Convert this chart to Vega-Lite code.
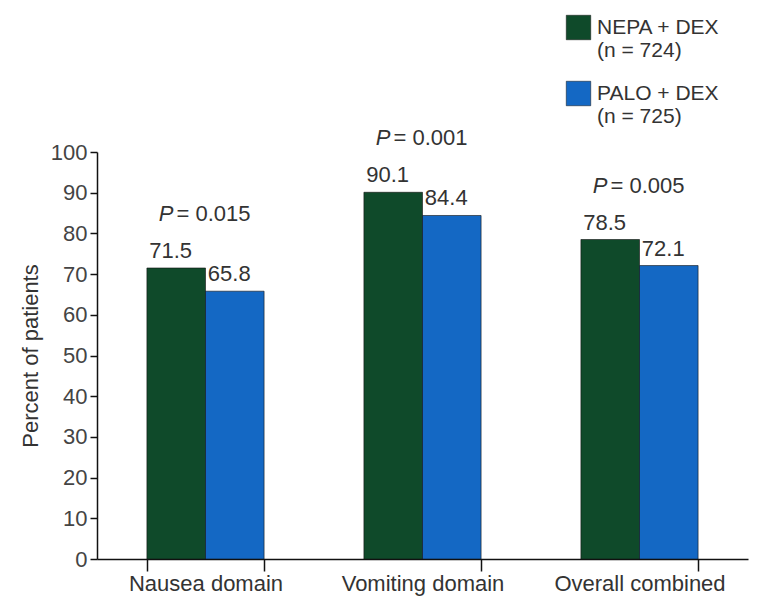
{
  "$schema": "https://vega.github.io/schema/vega-lite/v6.json",
  "width": 651,
  "height": 407,
  "autosize": {"type": "none"},
  "padding": {"left": 97, "top": 152, "right": 24, "bottom": 46},
  "background": "white",
  "config": {
    "font": "Liberation Sans",
    "view": {"stroke": null},
    "axis": {"grid": false},
    "scale": {"offsetBandPaddingInner": 0, "offsetBandPaddingOuter": 0}
  },
  "datasets": {
    "bars": [
      {"domain": "Nausea domain", "treatment": "NEPA + DEX", "value": 71.5},
      {"domain": "Nausea domain", "treatment": "PALO + DEX", "value": 65.8},
      {"domain": "Vomiting domain", "treatment": "NEPA + DEX", "value": 90.1},
      {"domain": "Vomiting domain", "treatment": "PALO + DEX", "value": 84.4},
      {"domain": "Overall combined", "treatment": "NEPA + DEX", "value": 78.5},
      {"domain": "Overall combined", "treatment": "PALO + DEX", "value": 72.1}
    ],
    "pvals": [
      {"domain": "Nausea domain", "p": "= 0.015", "top": 71.5},
      {"domain": "Vomiting domain", "p": "= 0.001", "top": 90.1},
      {"domain": "Overall combined", "p": "= 0.005", "top": 78.5}
    ]
  },
  "layer": [
    {
      "data": {"name": "bars"},
      "mark": {"type": "bar", "stroke": "#111111", "strokeWidth": 0.6},
      "encoding": {
        "x": {
          "field": "domain", "type": "nominal", "sort": null,
          "scale": {"paddingInner": 0.46, "paddingOuter": 0.23},
          "axis": {
            "title": null, "labelAngle": 0, "tickBand": "extent", "tickSize": 12,
            "labelFontSize": 22, "labelColor": "#333333", "labelPadding": 2,
            "domainColor": "#111111", "domainWidth": 1.5, "tickColor": "#111111", "tickWidth": 1.5
          }
        },
        "xOffset": {"field": "treatment", "sort": null},
        "y": {
          "field": "value", "type": "quantitative",
          "scale": {"domain": [0, 100]},
          "axis": {
            "title": "Percent of patients", "titleFontSize": 22, "titleFontWeight": "normal",
            "titleColor": "#333333", "titlePadding": 8,
            "values": [0, 10, 20, 30, 40, 50, 60, 70, 80, 90, 100],
            "tickSize": 7, "labelFontSize": 22, "labelColor": "#444444", "labelPadding": 3,
            "domainColor": "#111111", "domainWidth": 1.5, "tickColor": "#111111", "tickWidth": 1.5
          }
        },
        "color": {
          "field": "treatment", "type": "nominal", "sort": null,
          "scale": {"range": ["#0f4a2a", "#1468c4"]},
          "legend": {
            "title": null, "orient": "none", "legendX": 469, "legendY": -137,
            "symbolType": "square", "symbolSize": 600, "symbolStrokeColor": "#111111", "symbolStrokeWidth": 0.5,
            "labelFontSize": 21, "labelColor": "#333333", "labelOffset": 6, "labelBaseline": "top",
            "rowPadding": 19,
            "labelExpr": "[datum.label, datum.label == 'NEPA + DEX' ? '(n = 724)' : '(n = 725)']",
            "encode": {"labels": {"update": {"dy": {"value": -11}, "lineHeight": {"value": 23}}}}
          }
        }
      }
    },
    {
      "data": {"name": "bars"},
      "mark": {"type": "text", "align": "left", "baseline": "alphabetic", "dx": -27, "dy": -10, "fontSize": 22, "color": "#333333"},
      "encoding": {
        "x": {"field": "domain", "type": "nominal", "sort": null},
        "xOffset": {"field": "treatment", "sort": null},
        "y": {"field": "value", "type": "quantitative"},
        "text": {"field": "value", "type": "quantitative", "format": ".1f"}
      }
    },
    {
      "data": {"name": "pvals"},
      "mark": {"type": "text", "align": "right", "baseline": "alphabetic", "dx": -32, "dy": -47, "fontSize": 22, "fontStyle": "italic", "color": "#333333"},
      "encoding": {
        "x": {"field": "domain", "type": "nominal", "sort": null},
        "y": {"field": "top", "type": "quantitative"},
        "text": {"value": "P"}
      }
    },
    {
      "data": {"name": "pvals"},
      "mark": {"type": "text", "align": "left", "baseline": "alphabetic", "dx": -29, "dy": -47, "fontSize": 22, "color": "#333333"},
      "encoding": {
        "x": {"field": "domain", "type": "nominal", "sort": null},
        "y": {"field": "top", "type": "quantitative"},
        "text": {"field": "p"}
      }
    }
  ]
}
